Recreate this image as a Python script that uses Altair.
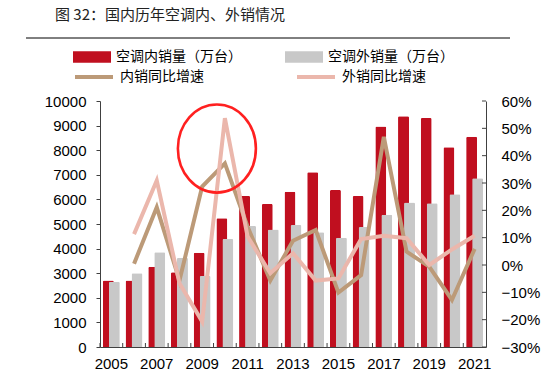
import altair as alt
import pandas as pd

years = list(range(2005, 2022))
domestic = [2700, 2700, 3265, 3035, 3835, 5230, 6140, 5810, 6310, 7100, 6380, 6140, 8960, 9380, 9310, 8120, 8550]
export = [2650, 3000, 3850, 3630, 2890, 4390, 4920, 4780, 4960, 4660, 4440, 4880, 5380, 5870, 5840, 6210, 6860]
dom_growth = [None, 0.5, 21.1, -5.7, 28.7, 37.2, 14.0, -5.7, 8.9, 12.8, -10.1, -3.7, 46.9, 4.9, -0.6, -12.8, 5.9]
exp_growth = [None, 11.3, 30.9, -6.7, -20.7, 53.7, 10.4, -3.0, 4.3, -5.7, -4.9, 9.5, 10.7, 9.8, 0.0, 5.7, 10.7]

left_ticks = list(range(0, 10001, 1000))
right_ticks = [-0.3, -0.2, -0.1, 0.0, 0.1, 0.2, 0.3, 0.4, 0.5, 0.6]

bar_names = ["空调内销量（万台）", "空调外销量（万台）"]
line_names = ["内销同比增速", "外销同比增速"]
title_text = "图 32：国内历年空调内、外销情况"

highlight_year = [2010]
highlight_pct = [0.426]

RED = "#C00F1F"
GRAY = "#C8C8C8"
BROWN = "#BC9A78"
PINK = "#EBB7AC"
AX = "#404040"
CJK = "Noto Sans CJK SC"
NUM = "Liberation Sans"

W, H = 386, 246

df = pd.DataFrame({
    "year": years,
    "domestic": domestic,
    "export": export,
    "dom_g": [None if v is None else v / 100 for v in dom_growth],
    "exp_g": [None if v is None else v / 100 for v in exp_growth],
})

x_axis = alt.Axis(title=None, labelAngle=0, tickSize=0, labelPadding=9,
                  labelExpr="datum.value % 2 == 1 ? datum.label : ''",
                  labelFont=NUM, labelFontSize=15, labelColor="black",
                  domainColor=AX, domainWidth=1, orient="bottom")
x_scale = alt.Scale(paddingInner=0, paddingOuter=0)
x_enc = alt.X("year:O", scale=x_scale, axis=x_axis)

yl_axis = alt.Axis(title=None, values=left_ticks, format="d", tickSize=4, tickColor=AX, labelPadding=10,
                   grid=False, labelFont=NUM, labelFontSize=15, labelColor="black",
                   domainColor=AX, orient="left")
yl_scale = alt.Scale(domain=[0, 10000], nice=False)

yr_axis = alt.Axis(title=None, orient="right", values=right_ticks, format=".0%", tickSize=0,
                   labelPadding=15, grid=False, labelFont=NUM, labelFontSize=15,
                   labelColor="black", domainColor=AX)
yr_scale = alt.Scale(domain=[-0.3, 0.6], nice=False, zero=False)

fill_scale = alt.Scale(domain=bar_names, range=[RED, GRAY])
stroke_scale = alt.Scale(domain=line_names, range=[BROWN, PINK])

fill_legend = alt.Legend(title=None, orient="none", legendX=-27, legendY=-63, direction="horizontal",
                         columns=2, columnPadding=43, symbolType="M-1,-0.3H1V0.3H-1Z",
                         symbolSize=1444, symbolStrokeWidth=0, labelFont=CJK, labelFontSize=14,
                         labelColor="black", labelOffset=5)
stroke_legend = alt.Legend(title=None, orient="none", legendX=-27, legendY=-45, direction="horizontal",
                           columns=2, columnPadding=85, symbolType="stroke",
                           symbolSize=1444, symbolStrokeWidth=4, labelFont=CJK, labelFontSize=14,
                           labelColor="black", labelOffset=5)

base = alt.Chart(df)

red_bars = base.transform_calculate(series=f'"{bar_names[0]}"').mark_bar(
    width=11, xOffset=-3, cornerRadiusTopLeft=1.5, cornerRadiusTopRight=1.5
).encode(
    x=x_enc,
    y=alt.Y("domestic:Q", scale=yl_scale, axis=yl_axis),
    fill=alt.Fill("series:N", scale=fill_scale, legend=fill_legend),
)
gray_bars = base.transform_calculate(series=f'"{bar_names[1]}"').mark_bar(
    width=11, xOffset=3, cornerRadiusTopLeft=1.5, cornerRadiusTopRight=1.5
).encode(
    x=x_enc,
    y=alt.Y("export:Q", scale=yl_scale, axis=yl_axis),
    fill=alt.Fill("series:N", scale=fill_scale, legend=fill_legend),
)
x_ticks = base.mark_rule(color=AX, strokeWidth=1).encode(
    x=alt.X("year:O", bandPosition=0, scale=x_scale, axis=x_axis),
    y=alt.value(H),
    y2=alt.value(H - 4),
)
sep = alt.Chart(pd.DataFrame({"k": [0]})).mark_rule(color="black", strokeWidth=1).encode(
    x=alt.value(-74), x2=alt.value(410), y=alt.value(-63)
)

bars = alt.layer(red_bars, gray_bars, x_ticks, sep)

brown_line = base.transform_calculate(series=f'"{line_names[0]}"').mark_line(
    strokeWidth=4
).encode(
    x=x_enc,
    y=alt.Y("dom_g:Q", scale=yr_scale, axis=yr_axis),
    stroke=alt.Stroke("series:N", scale=stroke_scale, legend=stroke_legend),
)
pink_line = base.transform_calculate(series=f'"{line_names[1]}"').mark_line(
    strokeWidth=4
).encode(
    x=x_enc,
    y=alt.Y("exp_g:Q", scale=yr_scale, axis=yr_axis),
    stroke=alt.Stroke("series:N", scale=stroke_scale, legend=stroke_legend),
)
r_ticks = alt.Chart(pd.DataFrame({"t": right_ticks})).mark_rule(color=AX, strokeWidth=1).encode(
    y=alt.Y("t:Q", scale=yr_scale, axis=yr_axis),
    x=alt.value(W),
    x2=alt.value(W - 4),
)
ellipse = alt.Chart(pd.DataFrame({"year": highlight_year, "pct": highlight_pct})).mark_point(
    shape="M0,-1.13A1,1.13 0 1,1 0,1.13A1,1.13 0 1,1 0,-1.13Z",
    size=6084, filled=False, stroke="#FF2020", strokeWidth=2.6, opacity=1, xOffset=-8
).encode(
    x=x_enc,
    y=alt.Y("pct:Q", scale=yr_scale, axis=yr_axis),
)

lines = alt.layer(brown_line, pink_line, r_ticks, ellipse)

chart = alt.layer(bars, lines).resolve_scale(y="independent").properties(
    width=W, height=H,
    autosize=alt.AutoSizeParams(type="none"),
    padding={"left": 100, "top": 101, "right": 70, "bottom": 30},
    title=alt.TitleParams(title_text, anchor="start", frame="group", dx=-45, offset=15,
                          font=CJK, fontSize=15, fontWeight="normal", color="#222222"),
).configure_view(stroke=None)

chart.save("out.html", embed_options={"renderer": "svg", "actions": False})
